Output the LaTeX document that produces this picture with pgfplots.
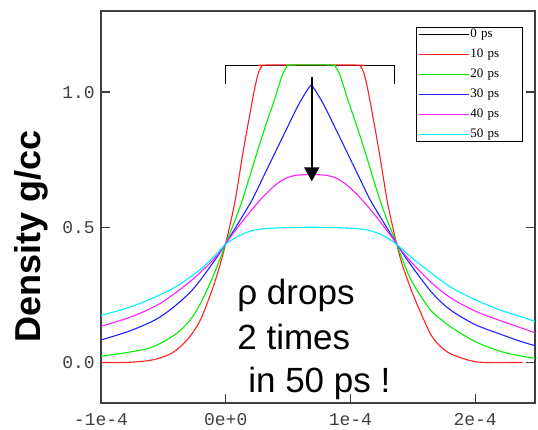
\documentclass[border=0pt]{standalone}
\usepackage{fontspec}
\setmainfont{Liberation Sans}
\newfontfamily\monofont{Liberation Mono}
\newfontfamily\seriffont{Liberation Serif}
\usepackage{pgfplots}
\pgfplotsset{compat=1.18}
\usetikzlibrary{arrows.meta}
\definecolor{axgray}{HTML}{404040}
\definecolor{cred}{HTML}{FF2020}
\definecolor{cgreen}{HTML}{00F000}
\definecolor{cblue}{HTML}{2020FF}
\definecolor{cmag}{HTML}{FF20FF}
\definecolor{ccyan}{HTML}{00F0FF}

\begin{document}
\begin{tikzpicture}
\path[use as bounding box] (0pt,0pt) rectangle (538pt,430pt);
\begin{axis}[
  at={(101pt,27pt)}, anchor=south west,
  scale only axis, width=434pt, height=392pt,
  xmin=-1, xmax=2.48, ymin=-0.15, ymax=1.3,
  axis line style={axgray, line width=1.2pt},
  tick style={axgray, line width=1.2pt},
  tick align=inside, major tick length=9pt,
  xtick={-1,0,1,2}, xticklabels={-1e-4,0e+0,1e-4,2e-4},
  ytick={0,0.5,1}, yticklabels={0.0,0.5,1.0},
  xtick pos=bottom, ytick pos=both,
  tick label style={font=\monofont\fontsize{18}{18}\selectfont, text=axgray},
  xticklabel style={inner sep=0pt, anchor=north, yshift=-10pt},
  yticklabel style={inner sep=0pt, anchor=east, xshift=-6pt},
  ylabel={Density g/cc},
  ylabel style={font=\bfseries\fontsize{36}{36}\selectfont, at={(axis description cs:-0.161,0.426)}, anchor=center},
  legend image code/.code={\draw[#1, line width=1.4pt] (0pt,0pt) -- (50pt,0pt);},
  legend style={draw=black, fill=white,
    at={(0.970,0.958)}, anchor=north east,
    font=\seriffont\fontsize{13}{13}\selectfont,
    inner xsep=1.5pt, inner ysep=0pt, row sep=6pt, column sep=0pt,
    nodes={inner sep=1pt, text height=9pt, text depth=3pt, text width=49pt},
    cells={anchor=west}},
  every axis plot/.append style={line width=1.1pt},
  curve/.style={smooth, tension=0.5},
]
% 0 ps: initial slab
\addplot[black] coordinates {(0,1.03) (0,1.1) (1.35,1.1) (1.35,1.03)};
\addlegendentry{0 ps}
% 10 ps
\addplot[cred, curve] coordinates {
(-1.0,0) (-0.8,0.0) (-0.6,0.008) (-0.45,0.03) (-0.36,0.06) (-0.28,0.10) (-0.2,0.16)
(-0.1,0.28) (-0.04,0.37) (0,0.44) (0.04,0.52) (0.08,0.61) (0.14,0.78) (0.21,0.96)
(0.24,1.03) (0.265,1.075) (0.29,1.095) (0.31,1.1)
(1.06,1.1) (1.08,1.095) (1.105,1.075) (1.13,1.03) (1.16,0.96) (1.23,0.78) (1.29,0.61)
(1.33,0.52) (1.37,0.44) (1.41,0.37) (1.47,0.29) (1.53,0.22) (1.64,0.107) (1.72,0.06)
(1.80,0.033) (1.95,0.008) (2.07,0.0) (2.38,0.0)};
\addlegendentry{10 ps}
% 20 ps
\addplot[cgreen, curve] coordinates {
(-1.0,0.023) (-0.8,0.036) (-0.6,0.055) (-0.45,0.09) (-0.36,0.12) (-0.28,0.16) (-0.2,0.22)
(-0.1,0.32) (-0.04,0.39) (0,0.44) (0.07,0.52) (0.14,0.61) (0.26,0.79) (0.33,0.89)
(0.39,0.97) (0.43,1.03) (0.46,1.07) (0.49,1.093) (0.52,1.1)
(0.85,1.1) (0.88,1.093) (0.91,1.07) (0.94,1.03) (0.98,0.97) (1.04,0.89) (1.11,0.79)
(1.23,0.61) (1.30,0.52) (1.37,0.44) (1.41,0.39) (1.47,0.32) (1.53,0.27) (1.65,0.19)
(1.80,0.133) (1.95,0.09) (2.07,0.063) (2.25,0.035) (2.48,0.015)};
\addlegendentry{20 ps}
% 30 ps
\addplot[cblue, curve] coordinates {
(-1.0,0.083) (-0.75,0.12) (-0.52,0.17) (-0.284,0.26) (-0.1,0.37) (0,0.44) (0.1,0.515)
(0.21,0.60) (0.3,0.685) (0.4,0.78) (0.5,0.875) (0.58,0.95) (0.63,0.99) (0.66,1.012)
(0.685,1.026) (0.71,1.012) (0.74,0.99) (0.79,0.95) (0.87,0.875) (0.97,0.78) (1.07,0.685)
(1.16,0.60) (1.27,0.515) (1.37,0.44) (1.47,0.37) (1.65,0.26)
(1.80,0.195) (2.0,0.14) (2.2,0.105) (2.35,0.08) (2.48,0.062)};
\addlegendentry{30 ps}
% 40 ps
\addplot[cmag, curve] coordinates {
(-1.0,0.134) (-0.75,0.17) (-0.52,0.22) (-0.284,0.30) (-0.1,0.38) (0,0.44) (0.1,0.502)
(0.2,0.56) (0.3,0.613) (0.4,0.657) (0.48,0.681) (0.56,0.692) (0.685,0.695)
(0.81,0.692) (0.89,0.681) (0.97,0.657) (1.07,0.613) (1.17,0.56) (1.27,0.502)
(1.37,0.44) (1.47,0.38) (1.65,0.295) (1.80,0.24) (2.0,0.19) (2.2,0.155) (2.48,0.11)};
\addlegendentry{40 ps}
% 50 ps
\addplot[ccyan, curve] coordinates {
(-1.0,0.174) (-0.8,0.20) (-0.6,0.235) (-0.4,0.28) (-0.2,0.345) (-0.1,0.39) (0,0.437)
(0.065,0.458) (0.135,0.475) (0.235,0.49) (0.385,0.497) (0.685,0.50) (0.985,0.497)
(1.135,0.49) (1.235,0.475) (1.305,0.458) (1.37,0.437) (1.485,0.39) (1.635,0.335)
(1.80,0.28) (1.985,0.235) (2.2,0.194) (2.35,0.172) (2.48,0.152)};
\addlegendentry{50 ps}

\draw[black, line width=2pt, -{Triangle[width=15pt,length=14pt]}]
  (axis cs:0.69,1.056) -- (axis cs:0.69,0.67);
\node[anchor=base west, font=\fontsize{35}{35}\selectfont, inner sep=0pt]
  at (axis cs:0.092,0.215) {ρ drops};
\node[anchor=base west, font=\fontsize{35}{35}\selectfont, inner sep=0pt]
  at (axis cs:0.092,0.048) {2 times};
\node[anchor=base west, font=\fontsize{35}{35}\selectfont, inner sep=0pt]
  at (axis cs:0.18,-0.111) {in 50 ps !};
\end{axis}
\end{tikzpicture}
\end{document}
